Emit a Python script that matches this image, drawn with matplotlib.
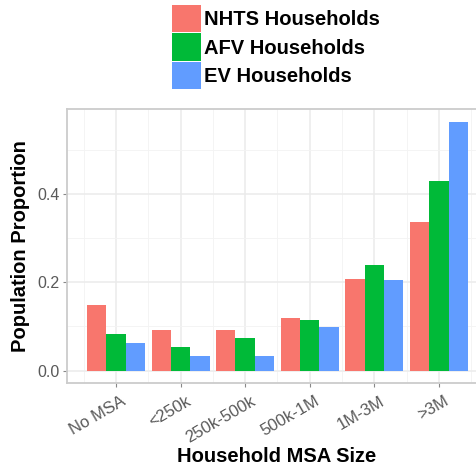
import matplotlib
matplotlib.use("Agg")
import matplotlib.pyplot as plt
import matplotlib.transforms as mtransforms
import numpy as np

categories = ["No MSA", "<250k", "250k-500k", "500k-1M", "1M-3M", ">3M"]
series_names = ["NHTS Households", "AFV Households", "EV Households"]
nhts = [0.149, 0.092, 0.091, 0.119, 0.208, 0.337]
afv = [0.083, 0.053, 0.073, 0.115, 0.240, 0.430]
ev = [0.062, 0.032, 0.032, 0.098, 0.205, 0.563]
colors = ["#F8766D", "#00BA38", "#619CFF"]
yticks = [0.0, 0.2, 0.4]
ytick_labels = ["0.0", "0.2", "0.4"]

plt.rcParams['font.family'] = ['Liberation Sans', 'DejaVu Sans']

W, H = 476, 467
fig = plt.figure(figsize=(W / 100, H / 100), dpi=100)
left_px, right_px, top_px, bottom_px = 66.7, 486, 109, 383
ax = fig.add_axes([left_px / W, 1 - bottom_px / H, (right_px - left_px) / W, (bottom_px - top_px) / H])

x = np.arange(1, len(categories) + 1)
bw = 0.3
handles = []
for i, (vals, c) in enumerate(zip([nhts, afv, ev], colors)):
    h = ax.bar(x + (i - 1) * bw, vals, width=bw, color=c, zorder=3, linewidth=0)
    handles.append(h)

ax.set_xlim(0.237, 0.237 + (right_px - left_px) / 64.6)
ax.set_ylim(-0.028, 0.592)

ax.set_xticks(x)
ax.set_xticks(np.arange(0.5, 7.0, 1.0), minor=True)
ax.set_xticklabels(categories, rotation=30, ha='right', va='top', rotation_mode='anchor')
ax.set_yticks(yticks)
ax.set_yticklabels(ytick_labels)
ax.set_yticks([0.1, 0.3, 0.5], minor=True)

ax.grid(which='major', color='#EBEBEB', linewidth=1.1, zorder=0)
ax.grid(which='minor', color='#F3F3F3', linewidth=0.6, zorder=0)
ax.set_axisbelow(True)

for s in ax.spines.values():
    s.set_color('#CCCCCC')
    s.set_linewidth(1.3)

ax.tick_params(axis='both', which='major', colors='#888888', labelcolor='#595959',
               labelsize=11.5, length=3, width=0.8, pad=2)
ax.tick_params(axis='both', which='minor', length=0)
ax.tick_params(axis='x', labelsize=12, pad=4.5)

offset = mtransforms.ScaledTranslation(5 / 100, 0, fig.dpi_scale_trans)
for lab in ax.get_xticklabels():
    lab.set_transform(lab.get_transform() + offset)

ax.set_ylabel("Population Proportion", fontsize=14.5, fontweight='bold', color='black')
ax.yaxis.set_label_coords((20 - left_px) / (right_px - left_px), 0.5)
ax.set_xlabel("Household MSA Size", fontsize=14.5, fontweight='bold', color='black')
ax.xaxis.set_label_coords(0.5, -(457 - bottom_px) / (bottom_px - top_px))
ax.yaxis.label.set_va('center')
ax.xaxis.label.set_va('center')

leg = fig.legend(handles, series_names, loc='upper left', bbox_to_anchor=(172 / W, 1 - 5 / H),
                 frameon=False, fontsize=14.5, handlelength=1.44, handleheight=1.7,
                 handletextpad=0.15, labelspacing=0.06, borderpad=0, borderaxespad=0)
for t in leg.get_texts():
    t.set_fontweight('bold')

fig.savefig("out.png", dpi=100)
